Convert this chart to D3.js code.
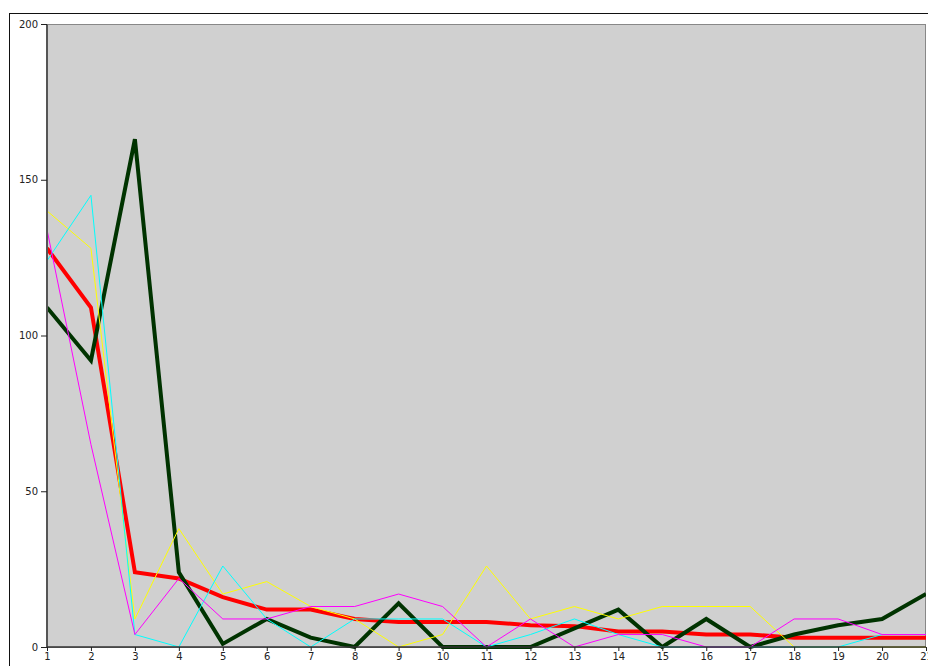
<!DOCTYPE html>
<html>
<head>
<meta charset="utf-8">
<script src="https://cdn.jsdelivr.net/npm/d3@7"></script>
<style>
  html, body { margin: 0; padding: 0; background: #ffffff; }
  svg { display: block; }
  .axis text { font-family: "DejaVu Sans", sans-serif; font-size: 10px; fill: #222; }
</style>
</head>
<body>
<svg id="chart" width="928" height="666"></svg>
<script>
const categories = [1,2,3,4,5,6,7,8,9,10,11,12,13,14,15,16,17,18,19,20,21];
const yTicks = [0, 50, 100, 150, 200];

const yellowValues  = [140,128,9,38,17,21,13,9,0,4,26,9,13,9,13,13,13,0,0,0,0];
const cyanValues    = [124,145,4,0,26,9,0,9,9,9,0,4,9,4,0,0,0,0,0,4,4];
const magentaValues = [134,65,4,22,9,9,13,13,17,13,0,9,0,4,4,0,0,9,9,4,4];
const redValues     = [128,109,24,22,16,12,12,9,8,8,8,7,6.7,5,5,4,4,3,3,3,3];
const greenValues   = [109,92,163,24,1,9,3,0,14,0,0,0,6,12,0,9,0,4,7,9,17];

const seriesList = [
  { name: "red",     values: redValues,     color: "#ff0000", width: 4 },
  { name: "green",   values: greenValues,   color: "#003300", width: 4 },
  { name: "yellow",  values: yellowValues,  color: "#ffff00", width: 1 },
  { name: "cyan",    values: cyanValues,    color: "#00ffff", width: 1 },
  { name: "magenta", values: magentaValues, color: "#ff00ff", width: 1 }
];

const svg = d3.select("#chart");
const W = 928, H = 666;
const margin = { left: 47, right: 2, top: 24, bottom: 19 };
const plotW = W - margin.left - margin.right;
const plotH = H - margin.top - margin.bottom;

// outer frame
svg.append("rect")
  .attr("x", 9.5).attr("y", 13.5)
  .attr("width", W).attr("height", H)
  .attr("fill", "none").attr("stroke", "#111").attr("stroke-width", 1);

const g = svg.append("g").attr("transform", `translate(${margin.left},${margin.top})`);

const x = d3.scaleLinear().domain([1, 21]).range([0, plotW]);
const y = d3.scaleLinear().domain([0, 200]).range([plotH, 0]);

// plot background
g.append("rect")
  .attr("x", 0).attr("y", 0.5)
  .attr("width", plotW - 0.5).attr("height", plotH)
  .attr("fill", "#d0d0d0").attr("stroke", "#888").attr("stroke-width", 1);

const clip = svg.append("defs").append("clipPath").attr("id", "plotclip")
  .append("rect").attr("x", 0).attr("y", 0).attr("width", plotW).attr("height", plotH + 2);

const line = d3.line()
  .x((d, i) => x(categories[i]))
  .y(d => y(d));

const linesG = g.append("g").attr("clip-path", "url(#plotclip)");
seriesList.forEach(s => {
  linesG.append("path")
    .datum(s.values)
    .attr("d", line)
    .attr("fill", "none")
    .attr("stroke", s.color)
    .attr("stroke-width", s.width)
    .attr("stroke-linejoin", "miter");
});

// axes
const yAxis = g.append("g").attr("class", "axis")
  .call(d3.axisLeft(y).tickValues(yTicks).tickSize(6).tickPadding(3).tickFormat(d3.format("d")));
yAxis.select(".domain").attr("stroke", "#555").attr("stroke-width", 2).attr("d", `M0,${plotH}V0.5`);
yAxis.selectAll(".tick line").attr("stroke", "#222");

const xAxis = g.append("g").attr("class", "axis")
  .attr("transform", `translate(0,${plotH})`)
  .call(d3.axisBottom(x).tickValues(categories).tickSize(4).tickPadding(2).tickFormat(d3.format("d")));
xAxis.select(".domain").attr("stroke", "#333").attr("stroke-width", 1.5).attr("d", `M0,0H${plotW}`);
xAxis.selectAll(".tick line").attr("stroke", "#222");
</script>
</body>
</html>
